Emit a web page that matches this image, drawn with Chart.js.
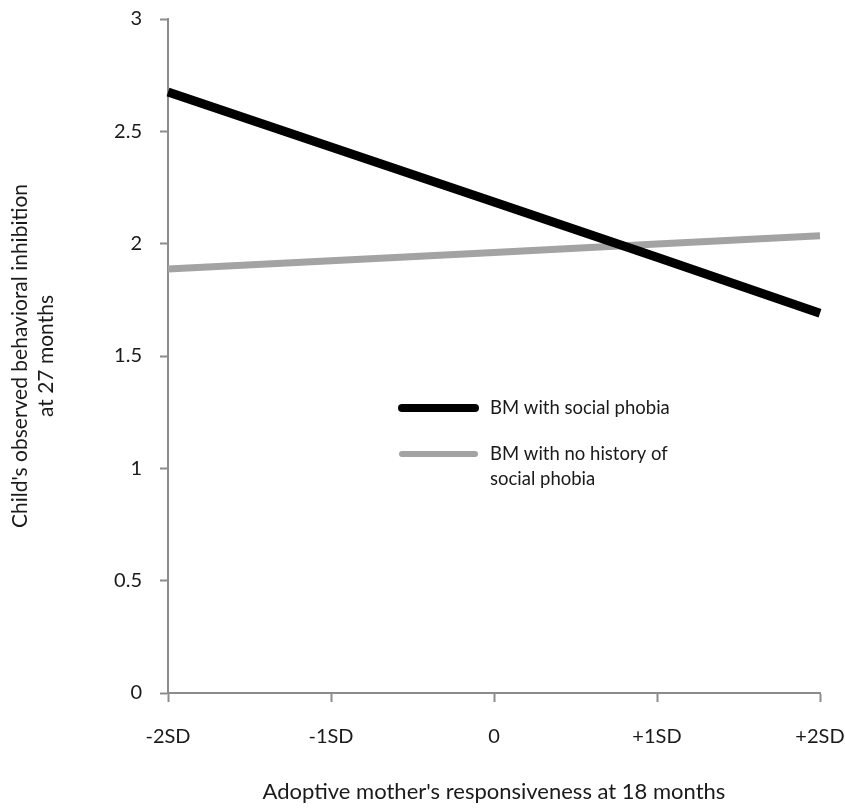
<!DOCTYPE html>
<html>
<head>
<meta charset="utf-8">
<script src="https://cdn.jsdelivr.net/npm/chart.js@4.4.0/dist/chart.umd.min.js"></script>
<style>
  html, body { margin: 0; padding: 0; background: #fff; }
  #wrap { width: 845px; height: 809px; }
</style>
</head>
<body>
<div id="wrap"><canvas id="line-chart"></canvas></div>
<script>
var categories = ["-2SD", "-1SD", "0", "+1SD", "+2SD"];
var socialPhobia = [2.675, 2.43, 2.185, 1.94, 1.69];
var noHistory = [1.887, 1.924, 1.961, 1.998, 2.035];
var seriesNames = ["BM with social phobia", ["BM with no history of", "social phobia"]];
var yTicks = [0, 0.5, 1, 1.5, 2, 2.5, 3];

var font = "Lato, 'Open Sans', sans-serif";
var textColor = '#1a1a1a';

// legend drawn inside the plot, like the original figure
var insideLegend = {
  id: 'insideLegend',
  afterDraw: function(chart) {
    var ctx = chart.ctx;
    var rows = [{ y: 408 }, { y: 454 }];
    ctx.save();
    chart.data.datasets.forEach(function(ds, i) {
      var y = rows[i].y;
      ctx.strokeStyle = ds.borderColor;
      ctx.lineWidth = ds.borderWidth - 1;
      ctx.lineCap = 'round';
      ctx.beginPath();
      ctx.moveTo(402, y);
      ctx.lineTo(475, y);
      ctx.stroke();
      ctx.fillStyle = textColor;
      ctx.font = '18.5px ' + font;
      ctx.textBaseline = 'middle';
      var lines = [].concat(ds.label);
      lines.forEach(function(t, k) {
        ctx.fillText(t, 490, y + k * 25);
      });
    });
    ctx.restore();
  }
};

new Chart(document.getElementById("line-chart"), {
  type: 'line',
  data: {
    labels: categories,
    datasets: [
      {
        label: seriesNames[0],
        data: socialPhobia,
        borderColor: "#000000",
        borderWidth: 9,
        pointRadius: 0,
        tension: 0,
        fill: false
      }, {
        label: seriesNames[1],
        data: noHistory,
        borderColor: "#a3a3a3",
        borderWidth: 7,
        pointRadius: 0,
        tension: 0,
        fill: false
      }
    ]
  },
  options: {
    responsive: true,
    maintainAspectRatio: false,
    animation: false,
    layout: { padding: { top: 0, right: 0, bottom: 4, left: 8 } },
    plugins: {
      legend: { display: false },
      tooltip: { enabled: false }
    },
    scales: {
      x: {
        offset: false,
        border: { color: '#8c8c8c', width: 2 },
        grid: { drawOnChartArea: false, drawTicks: true, tickLength: 9, tickWidth: 2, tickColor: '#8c8c8c' },
        ticks: { color: textColor, font: { family: font, size: 20 }, padding: 23, maxRotation: 0 },
        title: {
          display: true,
          text: "Adoptive mother's responsiveness at 18 months",
          color: textColor,
          font: { family: font, size: 22 },
          padding: { top: 25, bottom: 0 }
        },
        afterFit: function(scale) {
          scale.height = 809 - 693 - 4;
          scale.paddingLeft = 0;
          scale.paddingRight = 25;
        }
      },
      y: {
        min: 0,
        max: 3,
        afterBuildTicks: function(scale) {
          scale.ticks = yTicks.map(function(v) { return { value: v }; });
        },
        border: { color: '#8c8c8c', width: 2 },
        grid: { drawOnChartArea: false, drawTicks: true, tickLength: 8, tickWidth: 2, tickColor: '#8c8c8c' },
        ticks: {
          color: textColor, font: { family: font, size: 20 }, padding: 18,
          callback: function(v) { return String(v); }
        },
        title: {
          display: true,
          text: ["Child's observed behavioral inhibition", "at 27 months"],
          color: textColor,
          font: { family: font, size: 21 },
          padding: { top: 0, bottom: 0 }
        },
        afterFit: function(scale) {
          scale.width = 168 - 8;
          scale.paddingTop = 19;
          scale.paddingBottom = 0;
        }
      }
    }
  },
  plugins: [insideLegend]
});
</script>
</body>
</html>
